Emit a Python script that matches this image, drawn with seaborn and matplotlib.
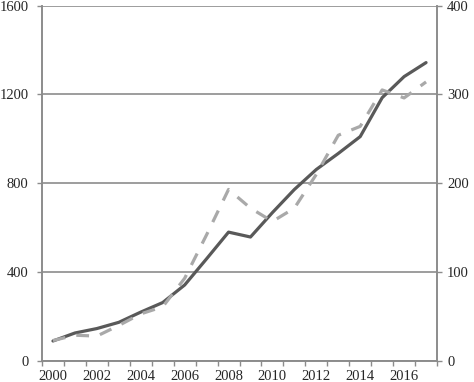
import numpy as np
import pandas as pd
import matplotlib
matplotlib.use("Agg")
import matplotlib.pyplot as plt
import seaborn as sns

# -------------------------------
# Data
# -------------------------------
years = list(range(2000, 2018))
left_values = [90, 126, 146, 174, 220, 263, 342, 460, 580, 558, 668, 772,
               862, 934, 1010, 1185, 1280, 1343]
right_values = [23, 29, 28, 40, 53, 61, 93, 142, 193, 172, 157, 172,
                210, 254, 264, 305, 296, 314]
left_ticks = [0, 400, 800, 1200, 1600]
right_ticks = [0, 100, 200, 300, 400]
year_labels = [str(y) for y in years[::2]]

df = pd.DataFrame({'idx': np.arange(len(years)), 'year': years,
                   'left': left_values, 'right': right_values})

# -------------------------------
# Style
# -------------------------------
sns.set_style("white")
plt.rcParams['font.family'] = ['Liberation Serif', 'DejaVu Serif']
plt.rcParams['font.size'] = 10.5

grid_col = '#8c8c8c'

fig = plt.figure(figsize=(4.74, 3.82), dpi=100)
ax = fig.add_axes([0.0886, 0.055, 0.8334, 0.9306])
ax2 = ax.twinx()

sns.lineplot(data=df, x='idx', y='left', ax=ax, color='#595959', linewidth=2.3,
             zorder=3)
sns.lineplot(data=df, x='idx', y='right', ax=ax2, color='#a9a9a9', linewidth=2.3,
             linestyle=(0, (4, 3.5)))

# -------------------------------
# Axes
# -------------------------------
ax.set_xlim(-0.5, len(years) - 0.5)
ax.set_ylim(0, 1600)
ax2.set_ylim(0, 400)

ax.set_yticks(left_ticks)
ax2.set_yticks(right_ticks)
ax.set_xticks(df['idx'][::2])
ax.set_xticklabels(year_labels)
ax.set_xticks(np.arange(-0.5, len(years)), minor=True)

ax.yaxis.grid(True, color=grid_col, linewidth=1.2)
ax.set_axisbelow(True)

ax.tick_params(axis='x', which='major', length=0, pad=6.5)
ax.tick_params(axis='x', which='minor', length=3.5, width=1, color=grid_col,
               direction='out', bottom=True)
ax.tick_params(axis='y', length=3.6, width=1, color=grid_col, direction='out',
               pad=6, left=True)
ax2.tick_params(axis='y', length=3.6, width=1, color=grid_col, direction='out',
                pad=3.6, right=True)

for a in (ax, ax2):
    a.set_xlabel('')
    a.set_ylabel('')
    for side in ['left', 'right', 'bottom']:
        a.spines[side].set_color(grid_col)
        a.spines[side].set_linewidth(1.2)
    a.spines['top'].set_visible(False)

fig.savefig('out.png', dpi=100)
plt.close(fig)
